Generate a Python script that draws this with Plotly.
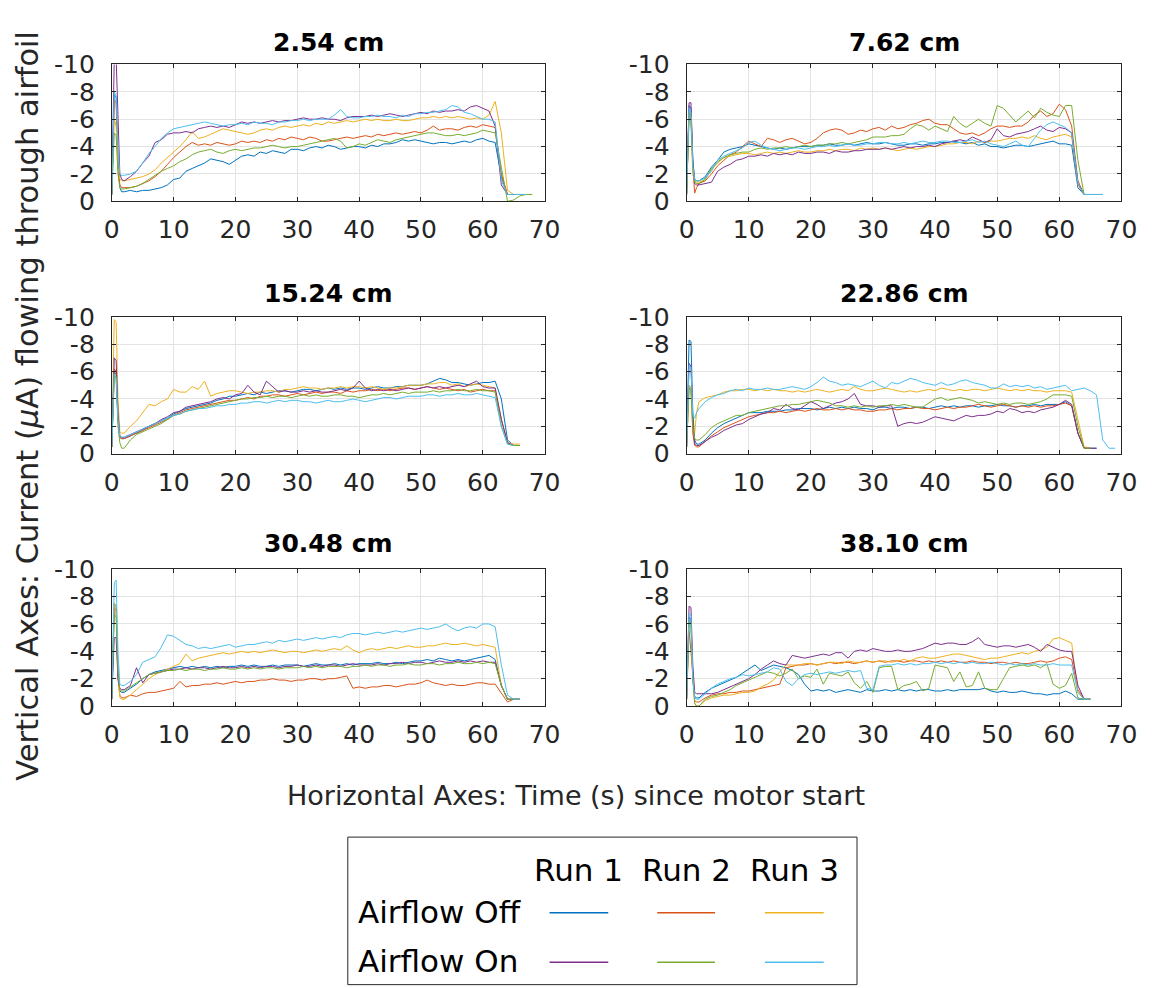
import plotly.graph_objects as go

# ---------------- data ----------------
TIME_S = [0, 0.4, 0.7, 1.0, 1.3, 1.6,
          2, 3, 4, 5, 6, 7, 8, 9, 10, 11,
          12, 13, 14, 15, 16, 17, 18, 19, 20, 21,
          22, 23, 24, 25, 26, 27, 28, 29, 30, 31,
          32, 33, 34, 35, 36, 37, 38, 39, 40, 41,
          42, 43, 44, 45, 46, 47, 48, 49, 50, 51,
          52, 53, 54, 55, 56, 57, 58, 59, 60, 61,
          62, 63, 64, 65, 66, 67, 68, 69]

PANEL_TITLES = ["2.54 cm", "7.62 cm", "15.24 cm", "22.86 cm", "30.48 cm", "38.10 cm"]
RUN_LABELS = ["Run 1", "Run 2", "Run 3"]
CONDITION_LABELS = ["Airflow Off", "Airflow On"]
X_TICKS = [0, 10, 20, 30, 40, 50, 60, 70]
Y_TICKS = [0, -2, -4, -6, -8, -10]
Y_TICK_TEXT = ["0", "-2", "-4", "-6", "-8", "-10"]
COLORS_OFF = ["#0072BD", "#D95319", "#EDB120"]
COLORS_ON = ["#7E2F8E", "#77AC30", "#4DBEEE"]

# ---- 2.54 cm ----
p1_off1 = [-0.5, -7.8, -7.6, -3.0, -1.0, -0.7,
           -0.7, -0.8, -0.7, -0.8, -0.8, -0.9, -1.0, -1.2, -1.6, -1.7,
           -2.2, -2.4, -2.6, -2.8, -3.1, -3.0, -2.9, -2.7, -3.0, -3.3,
           -3.4, -3.3, -3.6, -3.5, -3.7, -3.6, -3.5, -3.8, -3.8, -3.7,
           -3.9, -4.0, -3.9, -4.1, -4.0, -3.8, -3.9, -4.0, -4.0, -3.9,
           -4.1, -4.0, -4.2, -4.2, -4.3, -4.5, -4.4, -4.5, -4.4, -4.3,
           -4.2, -4.3, -4.3, -4.2, -4.3, -4.4, -4.3, -4.5, -4.6, -4.4,
           -4.3, -1.8, -0.5, -0.5, -0.5, -0.5, None, None]
p1_off2 = [-0.5, -7.4, -7.2, -2.5, -1.2, -1.0,
           -1.0, -1.0, -1.1, -1.3, -1.5, -1.8, -2.2, -2.7, -3.2, -3.6,
           -4.0, -4.3, -4.1, -4.2, -4.1, -4.3, -4.2, -4.1, -4.2, -4.4,
           -4.3, -4.4, -4.3, -4.5, -4.4, -4.6, -4.5, -4.7, -4.6, -4.5,
           -4.7, -4.6, -4.4, -4.4, -4.5, -4.6, -4.7, -4.6, -4.7, -4.8,
           -4.7, -4.9, -4.8, -4.9, -5.0, -4.9, -5.0, -5.1, -5.0, -5.2,
           -5.5, -5.2, -5.3, -5.3, -5.2, -5.4, -5.5, -5.4, -5.6, -5.5,
           -5.4, -2.0, -0.5, -0.5, -0.5, -0.5, None, None]
p1_off3 = [-0.5, -6.0, -5.5, -2.5, -1.6, -1.5,
           -1.5, -1.6, -1.7, -1.8, -2.0, -2.3, -2.8, -3.2, -3.6, -4.0,
           -4.5, -5.1, -4.6, -4.7, -4.9, -5.1, -5.3, -5.2, -5.1, -5.0,
           -4.9, -5.0, -5.2, -5.3, -5.2, -5.4, -5.5, -5.4, -5.5, -5.6,
           -5.5, -5.7, -5.6, -5.8, -5.7, -5.8, -5.9, -5.8, -5.9, -6.0,
           -5.9, -6.0, -5.9, -5.9, -6.0, -5.9, -5.9, -6.0, -6.1, -6.1,
           -6.2, -6.1, -6.2, -6.1, -6.2, -6.1, -6.0, -6.1, -6.0, -6.3,
           -7.3, -5.0, -0.8, -0.5, -0.5, -0.5, None, None]
p1_on1 = [-0.5, -10.5, -10.5, -6.0, -2.0, -1.6,
          -1.5, -1.8, -2.2, -2.8, -3.3, -4.3, -4.5, -4.9, -5.0, -5.0,
          -5.1, -5.0, -5.3, -5.4, -5.5, -5.4, -5.5, -5.4, -5.6, -5.8,
          -5.7, -5.8, -5.7, -5.8, -5.9, -5.8, -5.9, -5.9, -6.0, -6.1,
          -6.0, -6.0, -6.1, -6.0, -6.0, -5.9, -6.1, -6.2, -6.2, -6.2,
          -6.3, -6.2, -6.3, -6.4, -6.3, -6.2, -6.3, -6.4, -6.5, -6.4,
          -6.6, -6.5, -6.6, -6.6, -6.7, -6.6, -6.9, -7.0, -6.8, -6.6,
          -5.5, -1.2, -0.5, -0.5, -0.5, -0.5, None, None]
p1_on2 = [-0.5, -5.0, -4.8, -2.0, -1.0, -0.9,
          -0.9, -1.0, -1.1, -1.3, -1.6, -1.9, -2.2, -2.4, -2.6, -2.9,
          -3.1, -3.4, -3.6, -3.7, -3.8, -3.6, -3.5, -3.7, -3.8, -3.7,
          -3.8, -3.9, -3.9, -4.0, -4.1, -4.0, -3.9, -4.0, -4.0, -4.1,
          -4.2, -4.3, -4.4, -4.5, -4.6, -4.4, -3.9, -4.0, -4.2, -4.1,
          -4.3, -4.5, -4.4, -4.3, -4.5, -4.6, -4.7, -4.8, -4.9, -5.0,
          -5.0, -4.9, -4.8, -4.8, -4.9, -4.8, -4.9, -5.0, -5.2, -5.1,
          -5.0, -2.5, 0.0, -0.1, -0.4, -0.5, -0.5, None]
p1_on3 = [-0.5, -8.0, -7.7, -4.0, -2.0, -1.9,
          -1.9, -2.0, -2.2, -2.8, -3.5, -4.0, -4.6, -5.0, -5.3, -5.4,
          -5.5, -5.6, -5.7, -5.8, -5.7, -5.6, -5.5, -5.6, -5.6, -5.7,
          -5.6, -5.8, -5.7, -5.7, -5.6, -5.8, -5.8, -5.9, -5.9, -6.0,
          -5.9, -6.0, -6.0, -6.0, -6.3, -6.7, -6.2, -6.1, -6.1, -6.2,
          -6.2, -6.3, -6.2, -6.2, -6.1, -6.3, -6.2, -6.4, -6.4, -6.5,
          -6.5, -6.6, -6.7, -7.0, -6.9, -6.5, -6.4, -6.2, -6.0, -6.0,
          -5.8, -1.5, -0.5, -0.5, -0.5, -0.5, None, None]

# ---- 7.62 cm ----
p2_off1 = [-0.5, -7.0, -6.8, -3.0, -1.6, -1.5,
           -1.5, -1.8, -2.5, -3.0, -3.6, -3.8, -3.9, -4.0, -4.2, -4.1,
           -4.0, -3.9, -3.8, -3.9, -3.8, -3.9, -4.0, -4.0, -4.0, -4.1,
           -4.1, -4.2, -4.1, -4.1, -4.2, -4.1, -4.2, -4.3, -4.2, -4.2,
           -4.3, -4.2, -4.1, -4.1, -4.2, -4.2, -4.1, -4.2, -4.2, -4.3,
           -4.3, -4.4, -4.3, -4.2, -4.3, -4.1, -4.2, -4.0, -4.0, -3.9,
           -4.0, -4.1, -4.1, -4.0, -4.1, -4.2, -4.3, -4.4, -4.2, -4.2,
           -4.1, -1.0, -0.5, -0.5, -0.5, -0.5, None, None]
p2_off2 = [-0.5, -6.5, -6.2, -2.5, -0.6, -1.0,
           -1.3, -1.5, -2.0, -2.6, -3.0, -3.4, -3.6, -4.0, -4.4, -4.2,
           -4.0, -4.6, -4.5, -4.3, -4.5, -4.6, -4.4, -4.2, -4.3, -4.6,
           -5.0, -5.2, -5.3, -5.2, -4.9, -5.0, -5.2, -5.1, -5.3, -5.4,
           -5.2, -5.5, -5.3, -5.4, -5.6, -5.7, -5.9, -6.0, -5.7, -5.6,
           -5.6, -5.3, -5.0, -4.9, -5.0, -4.8, -5.0, -5.3, -5.5, -5.5,
           -5.4, -5.5, -5.5, -5.8, -6.3, -6.6, -6.2, -6.4, -7.1, -6.7,
           -5.5, -1.5, -0.5, -0.5, -0.5, -0.5, None, None]
p2_off3 = [-0.5, -6.0, -5.5, -2.0, -1.5, -1.4,
           -1.4, -1.6, -2.3, -2.8, -3.2, -3.3, -3.4, -3.5, -3.5, -3.4,
           -3.5, -3.6, -3.5, -3.6, -3.5, -3.6, -3.7, -3.6, -3.6, -3.7,
           -3.7, -3.8, -3.7, -3.8, -3.8, -3.7, -3.9, -3.8, -3.9, -3.8,
           -3.9, -3.8, -3.7, -3.8, -3.9, -3.8, -3.9, -4.0, -4.0, -4.1,
           -4.2, -4.2, -4.3, -4.3, -4.2, -4.4, -4.3, -4.4, -4.4, -4.5,
           -4.6, -4.6, -4.7, -4.6, -4.8, -4.6, -4.5, -4.7, -4.8, -4.9,
           -4.7, -1.2, -0.5, -0.5, -0.5, -0.5, None, None]
p2_on1 = [-0.5, -7.2, -7.2, -3.0, -1.3, -1.2,
          -1.2, -1.3, -1.4, -2.2, -2.5, -2.7, -3.0, -3.1, -3.3, -3.3,
          -3.4, -3.3, -3.5, -3.4, -3.5, -3.4, -3.6, -3.5, -3.5, -3.6,
          -3.6, -3.5, -3.7, -3.6, -3.6, -3.7, -3.7, -3.8, -3.8, -3.8,
          -3.9, -3.8, -3.9, -4.0, -3.9, -4.0, -4.0, -4.1, -4.0, -4.2,
          -4.3, -4.4, -4.5, -4.4, -4.7, -4.5, -4.3, -4.5, -5.3, -4.8,
          -4.7, -4.9, -5.0, -5.1, -5.3, -5.5, -5.2, -5.1, -5.4, -5.3,
          -5.0, -1.3, -0.5, -0.5, -0.5, -0.5, None, None]
p2_on2 = [-0.5, -6.5, -6.2, -2.5, -1.4, -1.3,
          -1.3, -1.6, -2.4, -2.9, -3.2, -3.4, -3.5, -3.6, -3.6, -3.8,
          -3.9, -3.8, -3.9, -3.9, -4.0, -3.9, -4.0, -4.1, -4.0, -4.1,
          -4.1, -4.2, -4.2, -4.3, -4.2, -4.3, -4.4, -4.5, -4.7, -4.7,
          -4.7, -4.8, -4.8, -4.9, -5.3, -5.6, -5.5, -5.2, -5.5, -5.3,
          -5.1, -6.2, -5.7, -5.4, -5.7, -6.0, -5.7, -5.5, -7.0, -6.8,
          -6.3, -5.8, -6.2, -6.6, -6.1, -6.8, -6.5, -6.3, -6.2, -7.0,
          -7.0, -3.0, -0.5, -0.5, -0.5, -0.5, None, None]
p2_on3 = [-0.5, -6.8, -6.5, -2.5, -1.6, -1.5,
          -1.5, -1.7, -2.2, -3.0, -3.3, -3.5, -3.7, -3.9, -4.3, -4.4,
          -4.1, -3.9, -3.8, -3.7, -3.8, -3.9, -3.9, -3.8, -3.9, -4.0,
          -4.0, -4.1, -4.0, -4.1, -4.2, -4.1, -4.1, -4.2, -4.2, -4.3,
          -4.3, -4.2, -4.2, -4.3, -4.2, -4.3, -4.4, -4.3, -4.3, -4.4,
          -4.4, -4.3, -4.3, -4.4, -4.5, -4.3, -4.4, -4.2, -4.1, -4.0,
          -4.2, -4.4, -4.1, -4.0, -4.6, -5.2, -5.6, -5.8, -5.6, -5.4,
          -5.0, -1.3, -0.5, -0.5, -0.5, -0.5, None, None]

# ---- 15.24 cm ----
p3_off1 = [-0.5, -6.0, -5.8, -2.5, -1.2, -1.1,
           -1.1, -1.3, -1.5, -1.7, -2.0, -2.2, -2.4, -2.6, -2.9, -3.1,
           -3.3, -3.4, -3.5, -3.6, -3.7, -3.9, -4.0, -4.2, -4.2, -4.3,
           -4.4, -4.3, -4.5, -4.4, -4.5, -4.6, -4.6, -4.5, -4.6, -4.7,
           -4.7, -4.6, -4.7, -4.8, -4.7, -4.8, -4.7, -4.8, -4.8, -4.7,
           -4.8, -4.9, -4.8, -4.8, -4.9, -4.9, -5.0, -5.0, -5.0, -5.1,
           -5.3, -5.5, -5.4, -5.2, -5.2, -5.1, -5.0, -5.1, -5.2, -5.2,
           -5.3, -4.0, -1.0, -0.6, -0.6, None, None, None]
p3_off2 = [-0.5, -6.2, -6.0, -2.5, -1.2, -1.1,
           -1.1, -1.3, -1.5, -1.7, -1.9, -2.1, -2.3, -2.5, -2.8, -3.0,
           -3.2, -3.3, -3.4, -3.5, -3.6, -3.7, -3.8, -3.9, -3.9, -4.0,
           -4.1, -4.0, -4.2, -4.2, -4.3, -4.3, -4.2, -4.3, -4.4, -4.3,
           -4.4, -4.5, -4.4, -4.5, -4.5, -4.4, -4.6, -4.5, -4.6, -4.6,
           -4.7, -4.6, -4.7, -4.6, -4.7, -4.8, -4.8, -4.7, -4.8, -4.9,
           -4.8, -4.7, -4.8, -4.7, -4.6, -4.7, -4.5, -4.6, -4.7, -4.6,
           -4.6, -2.5, -0.8, -0.6, -0.6, None, None, None]
p3_off3 = [-0.5, -9.8, -9.6, -4.0, -1.6, -1.5,
           -1.5, -2.0, -2.4, -3.0, -3.6, -3.5, -3.8, -4.0, -4.7, -4.5,
           -4.5, -4.9, -4.7, -5.3, -4.2, -4.4, -4.5, -4.6, -4.6, -4.5,
           -4.4, -4.5, -4.5, -4.6, -4.6, -4.5, -4.7, -4.7, -4.8, -4.9,
           -4.8, -4.8, -4.7, -4.8, -4.8, -4.9, -4.8, -4.9, -4.9, -4.8,
           -4.9, -4.8, -4.7, -4.8, -4.8, -4.9, -5.0, -5.0, -5.0, -5.1,
           -5.1, -5.2, -5.2, -5.0, -5.1, -4.9, -5.0, -5.1, -5.0, -4.9,
           -4.8, -2.5, -0.8, -0.7, -0.7, None, None, None]
p3_on1 = [-0.5, -7.0, -6.8, -3.0, -1.3, -1.2,
          -1.2, -1.4, -1.6, -1.8, -2.0, -2.2, -2.5, -2.7, -3.0, -3.1,
          -3.4, -3.5, -3.6, -3.7, -3.8, -4.0, -4.1, -4.0, -4.3, -4.4,
          -5.0, -4.5, -4.3, -5.3, -4.9, -4.5, -4.6, -4.5, -4.5, -4.6,
          -4.5, -4.6, -4.5, -4.5, -4.6, -4.7, -4.6, -4.8, -5.3, -4.8,
          -4.6, -4.7, -4.6, -4.7, -4.6, -4.7, -4.8, -4.7, -4.8, -4.9,
          -4.8, -4.9, -4.8, -4.9, -5.0, -4.9, -5.1, -5.3, -4.9, -4.8,
          -4.8, -2.5, -0.8, -0.6, -0.6, None, None, None]
p3_on2 = [-0.5, -5.8, -5.5, -2.0, -0.8, -0.4,
          -0.4, -1.0, -1.4, -1.6, -1.8, -2.0, -2.2, -2.5, -2.8, -2.9,
          -3.1, -3.2, -3.3, -3.4, -3.5, -3.6, -3.7, -3.8, -3.9, -4.0,
          -4.0, -4.1, -4.1, -4.2, -4.1, -4.2, -4.2, -4.1, -4.2, -4.3,
          -4.2, -4.3, -4.2, -4.2, -4.3, -4.3, -4.2, -4.2, -4.1, -4.2,
          -4.3, -4.3, -4.4, -4.3, -4.4, -4.5, -4.4, -4.5, -4.5, -4.5,
          -4.6, -4.5, -4.6, -4.6, -4.7, -4.6, -4.6, -4.7, -4.6, -4.6,
          -4.5, -2.0, -0.7, -0.6, -0.6, None, None, None]
p3_on3 = [-0.5, -5.8, -5.6, -2.5, -1.3, -1.2,
          -1.2, -1.4, -1.6, -1.8, -2.0, -2.2, -2.4, -2.6, -2.8, -2.9,
          -3.1, -3.2, -3.3, -3.3, -3.4, -3.5, -3.5, -3.6, -3.6, -3.7,
          -3.7, -3.8, -3.8, -3.7, -3.8, -3.9, -3.8, -3.9, -3.9, -3.8,
          -3.8, -3.7, -3.8, -3.9, -3.8, -3.8, -3.9, -4.0, -3.9, -3.8,
          -3.9, -4.0, -4.1, -4.1, -4.0, -4.1, -4.2, -4.2, -4.2, -4.3,
          -4.3, -4.2, -4.3, -4.3, -4.4, -4.3, -4.3, -4.4, -4.3, -4.2,
          -4.1, -2.0, -0.7, -0.6, None, None, None, None]

# ---- 22.86 cm ----
p4_off1 = [-0.5, -8.3, -8.2, -3.0, -1.0, -0.7,
           -0.7, -1.0, -1.5, -1.9, -2.2, -2.4, -2.6, -2.8, -3.0, -3.0,
           -3.0, -3.1, -3.1, -3.1, -3.2, -3.2, -3.3, -3.3, -3.3, -3.2,
           -3.3, -3.4, -3.3, -3.4, -3.3, -3.4, -3.3, -3.3, -3.2, -3.4,
           -3.4, -3.3, -3.4, -3.4, -3.3, -3.4, -3.4, -3.3, -3.4, -3.5,
           -3.4, -3.5, -3.4, -3.5, -3.5, -3.4, -3.5, -3.5, -3.6, -3.5,
           -3.5, -3.4, -3.5, -3.5, -3.6, -3.5, -3.6, -3.6, -3.6, -3.8,
           -3.5, -1.5, -0.4, -0.4, -0.4, None, None, None]
p4_off2 = [-0.5, -5.0, -4.8, -1.5, -0.6, -0.5,
           -0.5, -0.9, -1.3, -1.6, -1.9, -2.1, -2.3, -2.5, -2.7, -2.8,
           -2.9, -3.0, -3.0, -3.1, -3.0, -3.1, -3.2, -3.1, -3.2, -3.3,
           -3.2, -3.2, -3.3, -3.2, -3.3, -3.2, -3.2, -3.1, -3.1, -3.2,
           -3.2, -3.3, -3.2, -3.3, -3.3, -3.4, -3.3, -3.3, -3.2, -3.3,
           -3.4, -3.3, -3.4, -3.4, -3.5, -3.6, -3.5, -3.4, -3.5, -3.6,
           -3.5, -3.4, -3.5, -3.4, -3.5, -3.4, -3.5, -3.5, -3.6, -3.7,
           -3.5, -1.5, -0.4, -0.4, None, None, None, None]
p4_off3 = [-0.5, -5.0, -4.8, -2.0, -1.5, -3.0,
           -3.8, -4.1, -4.2, -4.3, -4.5, -4.6, -4.6, -4.7, -4.7, -4.6,
           -4.7, -4.6, -4.7, -4.6, -4.6, -4.5, -4.6, -4.5, -4.6, -4.7,
           -4.6, -4.5, -4.6, -4.7, -4.6, -4.9, -4.7, -4.6, -4.6, -4.7,
           -4.8, -4.7, -4.6, -4.5, -4.6, -4.5, -4.6, -4.7, -4.6, -4.8,
           -4.7, -4.6, -4.7, -4.6, -4.7, -4.7, -4.6, -4.7, -4.8, -4.7,
           -4.6, -4.7, -4.6, -4.7, -4.6, -4.6, -4.5, -4.6, -4.6, -4.6,
           -4.5, -2.5, -0.5, -0.4, None, None, None, None]
p4_on1 = [-0.5, -6.6, -6.4, -2.5, -0.7, -0.6,
          -0.6, -0.9, -1.2, -1.4, -1.7, -1.9, -2.1, -2.2, -2.5, -2.7,
          -2.9, -3.0, -3.3, -3.2, -3.6, -3.3, -3.2, -3.5, -3.8, -3.6,
          -3.3, -3.5, -3.7, -3.8, -4.0, -4.4, -3.6, -3.5, -3.5, -3.4,
          -3.5, -3.5, -2.0, -2.2, -2.3, -2.2, -2.3, -2.5, -2.7, -2.6,
          -2.5, -2.4, -2.6, -2.8, -2.7, -2.8, -2.8, -2.9, -3.1, -3.0,
          -3.3, -3.2, -3.0, -3.1, -3.0, -3.2, -3.3, -3.4, -3.6, -3.9,
          -3.6, -1.5, -0.4, -0.4, -0.4, None, None, None]
p4_on2 = [-0.5, -4.8, -4.6, -2.0, -1.1, -1.0,
          -1.0, -1.4, -1.9, -2.2, -2.4, -2.6, -2.8, -2.8, -3.0, -3.1,
          -3.2, -3.3, -3.4, -3.5, -3.5, -3.6, -3.6, -3.7, -3.8, -3.9,
          -3.8, -3.7, -3.5, -3.5, -3.4, -3.5, -3.4, -3.5, -3.4, -3.5,
          -3.5, -3.6, -3.5, -3.6, -3.5, -3.4, -3.4, -3.7, -4.0, -4.1,
          -3.9, -4.0, -4.1, -4.0, -3.9, -3.7, -3.8, -3.7, -3.6, -3.7,
          -3.6, -3.7, -3.7, -3.6, -3.7, -3.8, -4.0, -4.3, -4.3, -4.3,
          -4.2, -2.0, -0.4, -0.4, None, None, None, None]
p4_on3 = [-0.5, -6.5, -6.3, -2.8, -2.6, -3.0,
          -3.3, -3.8, -4.1, -4.3, -4.4, -4.6, -4.7, -4.6, -4.8, -4.7,
          -4.7, -4.8, -4.7, -4.7, -4.8, -4.9, -4.8, -4.7, -4.9, -5.2,
          -5.6, -5.3, -5.2, -5.0, -5.1, -5.0, -4.9, -5.1, -5.3, -5.0,
          -4.8, -5.2, -5.1, -5.3, -5.5, -5.4, -5.2, -5.1, -5.0, -5.2,
          -5.0, -5.1, -5.3, -5.4, -5.2, -5.1, -5.0, -4.8, -4.8, -5.1,
          -4.9, -5.0, -4.9, -5.0, -4.8, -4.9, -4.7, -4.8, -4.9, -5.0,
          -4.6, -4.7, -4.8, -4.6, -4.3, -1.0, -0.4, -0.4]

# ---- 30.48 cm ----
p5_off1 = [-0.5, -7.5, -7.3, -2.5, -1.1, -1.0,
           -1.0, -1.3, -1.6, -2.0, -2.3, -2.5, -2.6, -2.7, -2.8, -2.9,
           -2.8, -2.9, -2.8, -2.9, -2.8, -2.9, -2.8, -2.9, -2.9, -3.0,
           -2.9, -3.0, -2.9, -2.9, -3.0, -2.9, -3.0, -3.0, -3.0, -2.9,
           -3.0, -3.1, -3.0, -3.0, -3.1, -3.0, -3.1, -3.0, -3.1, -3.1,
           -3.1, -3.2, -3.1, -3.1, -3.2, -3.1, -3.2, -3.3, -3.3, -3.4,
           -3.3, -3.5, -3.4, -3.3, -3.4, -3.3, -3.4, -3.5, -3.6, -3.7,
           -3.4, -1.5, -0.5, -0.5, -0.5, None, None, None]
p5_off2 = [-0.5, -7.2, -7.0, -2.0, -0.8, -0.6,
           -0.6, -0.8, -0.7, -0.9, -1.0, -1.0, -1.1, -1.2, -1.3, -1.8,
           -1.4, -1.5, -1.5, -1.6, -1.6, -1.7, -1.6, -1.7, -1.8, -1.7,
           -1.8, -1.8, -1.9, -1.9, -2.0, -1.9, -1.9, -1.8, -1.9, -1.9,
           -2.0, -2.0, -1.9, -2.0, -2.0, -2.1, -2.2, -1.3, -1.4, -1.3,
           -1.4, -1.4, -1.5, -1.5, -1.4, -1.5, -1.6, -1.6, -1.7, -1.9,
           -1.7, -1.6, -1.5, -1.6, -1.5, -1.5, -1.6, -1.7, -1.7, -1.6,
           -1.6, -0.9, -0.3, -0.5, -0.5, None, None, None]
p5_off3 = [-0.5, -7.5, -7.3, -2.5, -0.6, -0.5,
           -0.5, -0.8, -1.2, -1.6, -2.0, -2.3, -2.5, -2.7, -2.9, -3.1,
           -3.8, -3.3, -3.5, -3.6, -3.7, -3.8, -3.9, -3.8, -3.9, -4.0,
           -3.9, -4.0, -3.9, -4.0, -4.1, -4.0, -3.9, -4.0, -4.0, -3.9,
           -4.0, -4.1, -4.0, -4.1, -4.2, -4.1, -4.4, -4.1, -3.9, -4.1,
           -4.2, -4.1, -4.2, -4.3, -4.2, -4.3, -4.4, -4.3, -4.3, -4.4,
           -4.4, -4.5, -4.6, -4.5, -4.5, -4.6, -4.5, -4.4, -4.5, -4.4,
           -4.3, -1.5, -0.5, -0.5, -0.5, None, None, None]
p5_on1 = [-0.5, -5.0, -5.0, -2.0, -1.3, -1.2,
          -1.2, -1.5, -2.8, -1.7, -2.3, -2.4, -2.5, -2.6, -2.7, -2.7,
          -2.8, -2.7, -2.8, -2.8, -2.7, -2.8, -2.9, -2.8, -2.8, -2.9,
          -2.8, -2.9, -2.8, -2.9, -2.9, -2.8, -2.9, -2.9, -3.0, -2.9,
          -2.9, -3.0, -2.9, -3.0, -3.0, -2.9, -3.0, -3.1, -3.0, -3.0,
          -3.0, -3.1, -3.0, -3.1, -3.1, -3.2, -3.1, -3.2, -3.2, -3.1,
          -3.2, -3.3, -3.2, -3.2, -3.3, -3.2, -3.3, -3.2, -3.3, -3.2,
          -3.2, -1.5, -0.5, -0.5, -0.5, None, None, None]
p5_on2 = [-0.5, -6.7, -6.5, -2.5, -1.2, -1.1,
          -1.1, -1.4, -1.7, -2.0, -2.3, -2.4, -2.5, -2.6, -2.6, -2.7,
          -2.6, -2.7, -2.7, -2.6, -2.7, -2.7, -2.8, -2.7, -2.7, -2.8,
          -2.7, -2.8, -2.7, -2.8, -2.8, -2.7, -2.8, -2.8, -2.8, -2.9,
          -2.8, -2.9, -2.8, -2.9, -2.9, -2.9, -2.8, -2.9, -2.9, -3.0,
          -2.9, -3.0, -3.0, -2.9, -3.0, -3.0, -3.1, -3.0, -3.0, -3.1,
          -3.1, -3.0, -3.1, -3.1, -3.2, -3.1, -3.1, -3.2, -3.1, -3.2,
          -3.1, -1.5, -0.5, -0.5, -0.5, None, None, None]
p5_on3 = [-0.5, -9.0, -9.2, -4.0, -1.6, -1.5,
          -1.5, -1.8, -2.3, -3.2, -3.4, -3.6, -4.3, -5.2, -5.1, -4.8,
          -4.5, -4.4, -4.2, -4.3, -4.2, -4.3, -4.4, -4.5, -4.3, -4.4,
          -4.5, -4.5, -4.6, -4.7, -4.6, -4.8, -4.7, -4.8, -4.9, -4.8,
          -4.9, -5.0, -4.9, -5.0, -5.1, -5.0, -5.2, -5.3, -5.3, -5.2,
          -5.3, -5.4, -5.3, -5.4, -5.5, -5.4, -5.5, -5.6, -5.7, -5.6,
          -5.7, -5.8, -6.0, -5.7, -5.5, -5.7, -5.8, -5.7, -6.0, -6.0,
          -5.8, -3.0, -0.8, -0.5, -0.5, None, None, None]

# ---- 38.10 cm ----
p6_off1 = [-0.5, -6.5, -6.3, -2.0, -0.7, -0.6,
           -0.6, -1.0, -1.3, -1.5, -1.7, -1.9, -2.1, -2.4, -2.7, -3.0,
           -2.6, -2.8, -3.0, -2.9, -2.8, -2.6, -2.3, -1.6, -1.1, -1.2,
           -1.1, -1.2, -1.0, -1.1, -1.2, -1.1, -1.0, -1.2, -1.1, -1.1,
           -1.2, -1.1, -1.2, -1.1, -1.2, -1.1, -1.2, -1.2, -1.1, -1.1,
           -1.2, -1.1, -1.2, -1.2, -1.2, -1.2, -1.3, -1.1, -1.0, -1.1,
           -1.0, -1.0, -1.1, -1.0, -0.9, -0.9, -0.8, -0.9, -0.9, -1.1,
           -0.9, -0.5, -0.5, -0.5, None, None, None, None]
p6_off2 = [-0.5, -5.5, -4.0, -2.0, -0.4, -0.3,
           -0.3, -0.6, -0.8, -0.9, -0.9, -1.0, -1.0, -1.1, -1.1, -1.2,
           -1.3, -1.4, -1.5, -1.6, -2.8, -2.9, -3.0, -3.0, -3.1, -3.0,
           -3.1, -3.2, -3.1, -3.2, -3.2, -3.1, -3.2, -3.3, -3.2, -3.3,
           -3.2, -3.3, -3.3, -3.2, -3.3, -3.3, -3.2, -3.3, -3.2, -3.3,
           -3.2, -3.3, -3.2, -3.2, -3.3, -3.2, -3.2, -3.1, -3.2, -3.2,
           -3.1, -3.2, -3.1, -3.1, -3.2, -3.3, -3.2, -3.3, -3.5, -3.6,
           -3.4, -1.2, -0.5, -0.5, None, None, None, None]
p6_off3 = [-0.5, -6.0, -5.8, -2.0, -0.2, 0.0,
           0.0, -0.4, -0.6, -0.7, -0.8, -0.8, -0.9, -1.0, -1.0, -1.1,
           -1.4, -1.6, -1.9, -2.5, -3.0, -3.0, -3.0, -3.1, -3.1, -3.0,
           -3.1, -3.2, -3.2, -3.1, -3.3, -3.2, -3.2, -3.3, -3.2, -3.3,
           -3.3, -3.2, -3.3, -3.4, -3.3, -3.5, -3.6, -3.5, -3.5, -3.6,
           -3.7, -3.8, -3.8, -3.7, -3.6, -3.5, -3.4, -3.5, -3.5, -3.6,
           -3.7, -3.8, -3.9, -3.8, -4.0, -4.1, -4.3, -4.9, -5.0, -4.8,
           -4.6, -1.0, -0.5, -0.5, None, None, None, None]
p6_on1 = [-0.5, -7.3, -7.2, -3.0, -1.0, -0.9,
          -0.9, -0.9, -0.9, -1.0, -1.2, -1.4, -1.6, -1.8, -2.0, -2.3,
          -2.7, -3.0, -3.3, -3.1, -3.0, -3.7, -3.6, -3.5, -3.6, -3.7,
          -3.8, -3.7, -3.9, -3.9, -3.5, -4.0, -4.1, -4.0, -4.2, -4.1,
          -4.0, -4.0, -4.1, -4.0, -4.0, -4.1, -4.2, -4.4, -4.6, -4.5,
          -4.6, -4.6, -4.5, -4.5, -4.7, -5.0, -4.5, -4.4, -4.3, -4.4,
          -4.4, -4.3, -4.4, -4.5, -4.3, -4.0, -4.5, -4.3, -4.1, -4.0,
          -4.0, -1.5, -0.5, -0.5, None, None, None, None]
p6_on2 = [-0.5, -6.3, -6.0, -2.0, -0.2, 0.0,
          0.0, -0.5, -0.7, -0.8, -1.0, -1.2, -1.5, -1.7, -1.9, -2.1,
          -2.3, -2.5, -2.4, -2.2, -2.4, -2.7, -2.0, -2.2, -2.1, -2.7,
          -1.6, -2.4, -2.3, -2.2, -2.5, -1.7, -1.3, -1.8, -1.0, -2.8,
          -2.9, -2.9, -1.2, -1.5, -1.6, -1.8, -1.1, -1.3, -3.0, -2.9,
          -2.8, -1.8, -2.5, -1.4, -1.5, -2.5, -1.3, -1.2, -1.2, -2.0,
          -2.8, -2.9, -3.0, -2.9, -3.0, -2.8, -3.1, -1.6, -1.3, -1.5,
          -2.4, -0.6, -0.5, -0.5, None, None, None, None]
p6_on3 = [-0.5, -6.8, -6.6, -2.0, -0.6, -0.5,
          -0.5, -0.9, -1.3, -1.6, -1.8, -2.0, -2.1, -2.3, -2.2, -2.3,
          -2.4, -2.5, -2.8, -2.7, -1.8, -1.5, -2.0, -2.3, -2.4, -2.3,
          -2.4, -2.5, -2.4, -2.5, -2.6, -2.5, -2.6, -1.3, -1.2, -2.9,
          -3.0, -3.0, -3.1, -3.0, -3.1, -3.0, -3.1, -3.1, -3.2, -3.1,
          -3.2, -3.1, -3.2, -3.1, -3.2, -3.1, -3.1, -3.2, -3.1, -3.0,
          -3.1, -3.0, -3.1, -3.0, -3.1, -3.0, -3.0, -3.1, -3.0, -3.0,
          -3.0, -1.0, -0.5, -0.5, None, None, None, None]

PANEL_SERIES = [
    [p1_off1, p1_off2, p1_off3, p1_on1, p1_on2, p1_on3],
    [p2_off1, p2_off2, p2_off3, p2_on1, p2_on2, p2_on3],
    [p3_off1, p3_off2, p3_off3, p3_on1, p3_on2, p3_on3],
    [p4_off1, p4_off2, p4_off3, p4_on1, p4_on2, p4_on3],
    [p5_off1, p5_off2, p5_off3, p5_on1, p5_on2, p5_on3],
    [p6_off1, p6_off2, p6_off3, p6_on1, p6_on2, p6_on3],
]

# ---------------- layout geometry (pixels -> paper) ----------------
W, H = 1156, 988
FONT = "DejaVu Sans"
TXT = "#262626"
GRID = "#e3e3e3"

COL_PX = [(106, 548), (693, 1137)]
ROW_PX = [(52, 193), (312, 453), (572, 713)]
TITLE_Y_PX = [29, 288, 545]


def px(x):
    return x / W


def py(y):
    return 1 - y / H


SERIES_COLORS = COLORS_OFF + COLORS_ON
SERIES_NAMES = [f"{c} {r}" for c in CONDITION_LABELS for r in RUN_LABELS]

fig = go.Figure()
layout = dict(
    width=W, height=H,
    margin=dict(l=0, r=0, t=0, b=0),
    paper_bgcolor="white", plot_bgcolor="white",
    showlegend=False,
    font=dict(family=FONT, size=22, color=TXT),
)
annotations = []
shapes = []

for i, series in enumerate(PANEL_SERIES):
    row, col = divmod(i, 2)
    ax = "" if i == 0 else str(i + 1)
    for s, vals in enumerate(series):
        fig.add_trace(go.Scatter(
            x=TIME_S, y=vals, mode="lines",
            line=dict(color=SERIES_COLORS[s], width=1),
            name=SERIES_NAMES[s],
            xaxis="x" + ax, yaxis="y" + ax,
            connectgaps=False,
        ))
    x0, x1 = COL_PX[col]
    y0, y1 = ROW_PX[row]
    layout["xaxis" + ax] = dict(
        domain=[px(x0), px(x1)], anchor="y" + ax,
        range=[0, 70], tickvals=X_TICKS,
        showgrid=True, gridcolor=GRID, gridwidth=1,
        zeroline=False, showline=True, linecolor=TXT, linewidth=1,
        mirror="ticks", ticks="inside", ticklen=4, tickcolor=TXT,
        ticklabelstandoff=6,
        tickfont=dict(family=FONT, size=25, color=TXT),
    )
    layout["yaxis" + ax] = dict(
        domain=[py(y1), py(y0)], anchor="x" + ax,
        range=[0, -10], tickvals=Y_TICKS, ticktext=Y_TICK_TEXT,
        showgrid=True, gridcolor=GRID, gridwidth=1,
        zeroline=False, showline=True, linecolor=TXT, linewidth=1,
        mirror="ticks", ticks="inside", ticklen=4, tickcolor=TXT,
        ticklabelstandoff=11,
        tickfont=dict(family=FONT, size=25, color=TXT),
    )
    annotations.append(dict(
        text="<b>" + PANEL_TITLES[i] + "</b>", xref="paper", yref="paper",
        x=px((x0 + x1) / 2), y=py(TITLE_Y_PX[row]),
        xanchor="center", yanchor="middle", showarrow=False,
        font=dict(family=FONT, size=25, color="black"),
    ))

# super axis labels
annotations.append(dict(
    text="Horizontal Axes: Time (s) since motor start",
    xref="paper", yref="paper", x=px(580), y=py(805),
    xanchor="center", yanchor="middle", showarrow=False,
    font=dict(family=FONT, size=27, color=TXT),
))
annotations.append(dict(
    text="Vertical Axes: Current (<i>μ</i>A) flowing through airfoil",
    xref="paper", yref="paper", x=px(20), y=py(404),
    xanchor="center", yanchor="middle", showarrow=False, textangle=-90,
    font=dict(family=FONT, size=30.5, color=TXT),
))

# legend table
shapes.append(dict(type="rect", xref="paper", yref="paper",
                   x0=px(347), x1=px(867), y0=py(848), y1=py(1000),
                   line=dict(color=TXT, width=1), fillcolor="white", layer="below"))
RUN_X_PX = [(553, 613), (663, 722), (773, 833)]
ROW_Y_PX = [925, 976]
for r, (a, b) in enumerate(RUN_X_PX):
    annotations.append(dict(
        text=RUN_LABELS[r], xref="paper", yref="paper",
        x=px((a + b) / 2), y=py(882), xanchor="center", yanchor="middle",
        showarrow=False, font=dict(family=FONT, size=31, color="black"),
    ))
for c, label in enumerate(CONDITION_LABELS):
    annotations.append(dict(
        text=label, xref="paper", yref="paper",
        x=px(355), y=py(ROW_Y_PX[c]), xanchor="left", yanchor="middle",
        showarrow=False, font=dict(family=FONT, size=31, color="black"),
    ))
    palette = COLORS_OFF if c == 0 else COLORS_ON
    for r, (a, b) in enumerate(RUN_X_PX):
        shapes.append(dict(type="line", xref="paper", yref="paper",
                           x0=px(a), x1=px(b), y0=py(ROW_Y_PX[c] + 1), y1=py(ROW_Y_PX[c] + 1),
                           line=dict(color=palette[r], width=1.5)))

layout["annotations"] = annotations
layout["shapes"] = shapes
fig.update_layout(**layout)
fig.write_html("out.html")
